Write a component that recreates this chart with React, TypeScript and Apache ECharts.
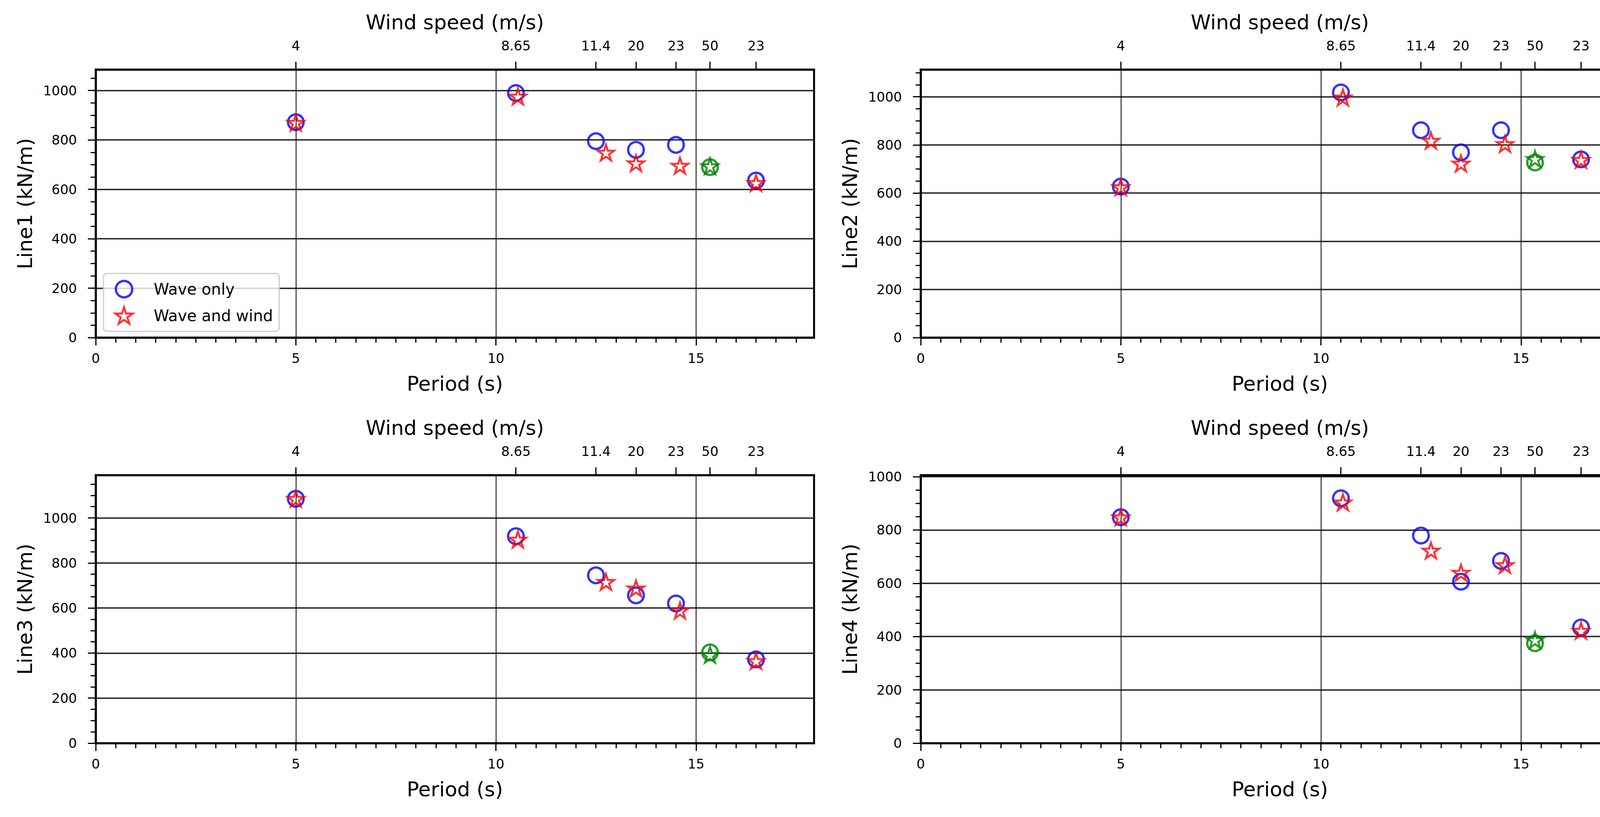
import * as echarts from 'echarts';
import { useEffect, useRef } from 'react';

// bottom axis (wave period) and top axis (wind speed at each case)
const periodMax = 17.95;
const periodTicks = [0, 5, 10, 15];
const windTickPeriods = [5, 10.5, 12.5, 13.5, 14.5, 15.35, 16.5];
const windTickLabels = ['4', '8.65', '11.4', '20', '23', '50', '23'];

// x positions of the markers
const periodsWaveOnly = [5, 10.5, 12.5, 13.5, 14.5, 16.5];
const periodsWaveWind = [5, 10.55, 12.75, 13.5, 14.6, 16.5];
const periodStorm = 15.35;

// mooring line tensions (kN/m)
const panelNames = ['Line1', 'Line2', 'Line3', 'Line4'];
const waveOnly = [
    [872, 990, 795, 760, 780, 636],
    [627, 1018, 861, 769, 861, 740],
    [1085, 919, 745, 656, 620, 372],
    [848, 919, 779, 606, 684, 434],
];
const waveWind = [
    [870, 976, 749, 706, 696, 626],
    [625, 997, 818, 723, 804, 738],
    [1085, 904, 716, 687, 589, 365],
    [848, 904, 723, 640, 669, 422],
];
const stormWaveOnly = [690, 727, 403, 375];
const stormWaveWind = [694, 742, 392, 387];

const yMax = [1085, 1113, 1190, 1006];
const yTicks = [0, 200, 400, 600, 800, 1000];

const star = 'path://M0,-100 L22.45,-30.9 L95.11,-30.9 L36.33,11.8 L58.78,80.9 L0,38.2 L-58.78,80.9 L-36.33,11.8 L-95.11,-30.9 L-22.45,-30.9 Z';
const font = 'DejaVu Sans';
const gridPos = [[245, 178], [2357, 178], [245, 1216], [2357, 1216]];

const App = () => {
    const divRef = useRef<HTMLDivElement>(null);

    useEffect(() => {
        const chart = echarts.init(divRef.current!, null, { renderer: 'svg' });

        const minorX: number[] = [];
        for (let k = 1; k * 0.5 < periodMax; k++) if (k % 10 !== 0) minorX.push(k * 0.5);

        const grids: any[] = [];
        const xAxes: any[] = [];
        const yAxes: any[] = [];
        const series: any[] = [];
        const line = { color: '#000', width: 5 };
        const tick = { color: '#000', width: 3 };
        const label = { fontSize: 34, fontFamily: font, color: '#000' };
        const nameStyle = { fontSize: 52, fontFamily: font, color: '#000' };

        gridPos.forEach(([left, top], i) => {
            grids.push({
                left, top, width: 1839, height: 686,
                show: true, borderColor: '#000', borderWidth: 5,
                outerBoundsMode: 'none',
            });
            xAxes.push({
                gridIndex: i, type: 'value', position: 'bottom', min: 0, max: periodMax, interval: 5,
                name: 'Period (s)', nameLocation: 'middle', nameGap: 92, nameTextStyle: nameStyle,
                axisLine: { show: true, onZero: false, lineStyle: line },
                axisTick: { show: true, length: 20, customValues: periodTicks, lineStyle: tick },
                axisLabel: { ...label, customValues: periodTicks, margin: 36, formatter: (v: number) => String(v) },
                splitLine: { show: true, lineStyle: { color: '#000', width: 2 } },
            });
            xAxes.push({
                gridIndex: i, type: 'value', position: 'bottom', min: 0, max: periodMax,
                axisLine: { show: false, onZero: false },
                axisTick: { show: true, length: 13, customValues: minorX, lineStyle: tick },
                axisLabel: { show: false },
                splitLine: { show: false },
            });
            xAxes.push({
                gridIndex: i, type: 'value', position: 'top', min: 0, max: periodMax,
                name: 'Wind speed (m/s)', nameLocation: 'middle', nameGap: 95, nameTextStyle: nameStyle,
                axisLine: { show: true, onZero: false, lineStyle: line },
                axisTick: { show: true, length: 20, customValues: windTickPeriods, lineStyle: tick },
                axisLabel: {
                    ...label, customValues: windTickPeriods, margin: 44,
                    formatter: (v: number) => {
                        const k = windTickPeriods.findIndex((p) => Math.abs(p - v) < 1e-6);
                        return k >= 0 ? windTickLabels[k] : '';
                    },
                },
                splitLine: { show: false },
            });

            const minorY: number[] = [];
            for (let v = 50; v < yMax[i]; v += 50) if (v % 200 !== 0) minorY.push(v);
            yAxes.push({
                gridIndex: i, type: 'value', position: 'left', min: 0, max: yMax[i], interval: 200,
                name: panelNames[i] + ' (kN/m)', nameLocation: 'middle', nameGap: 155, nameRotate: 90,
                nameTextStyle: nameStyle,
                axisLine: { show: true, onZero: false, lineStyle: line },
                axisTick: { show: true, length: 20, customValues: yTicks, lineStyle: tick },
                axisLabel: { ...label, customValues: yTicks, margin: 48, formatter: (v: number) => String(v) },
                splitLine: { show: true, lineStyle: { color: '#222', width: 3.5 } },
            });
            yAxes.push({
                gridIndex: i, type: 'value', position: 'left', min: 0, max: yMax[i],
                axisLine: { show: false, onZero: false },
                axisTick: { show: true, length: 13, customValues: minorY, lineStyle: tick },
                axisLabel: { show: false },
                splitLine: { show: false },
            });

            const xi = i * 3;
            const yi = i * 2;
            series.push({
                name: 'Wave only', type: 'scatter', xAxisIndex: xi, yAxisIndex: yi,
                symbol: 'circle', symbolSize: 40,
                itemStyle: { color: 'rgba(0,0,0,0)', borderColor: '#0000ff', borderWidth: 6 },
                data: periodsWaveOnly.map((p, k) => [p, waveOnly[i][k]]),
            });
            series.push({
                name: 'Wave and wind', type: 'scatter', xAxisIndex: xi, yAxisIndex: yi,
                symbol: star, symbolSize: [42, 40],
                itemStyle: { color: 'rgba(0,0,0,0)', borderColor: '#ff0000', borderWidth: 5 },
                data: periodsWaveWind.map((p, k) => [p, waveWind[i][k]]),
            });
            series.push({
                name: 'Wave only (50 m/s)', type: 'scatter', xAxisIndex: xi, yAxisIndex: yi,
                symbol: 'circle', symbolSize: 40,
                itemStyle: { color: 'rgba(0,0,0,0)', borderColor: '#008000', borderWidth: 6 },
                data: [[periodStorm, stormWaveOnly[i]]],
            });
            series.push({
                name: 'Wave and wind (50 m/s)', type: 'scatter', xAxisIndex: xi, yAxisIndex: yi,
                symbol: star, symbolSize: [42, 40],
                itemStyle: { color: 'rgba(0,0,0,0)', borderColor: '#008000', borderWidth: 5 },
                data: [[periodStorm, stormWaveWind[i]]],
            });
        });

        chart.setOption({
            animation: false,
            backgroundColor: '#fff',
            grid: grids,
            xAxis: xAxes,
            yAxis: yAxes,
            legend: {
                data: [
                    { name: 'Wave only', itemStyle: { color: 'rgba(0,0,0,0)', borderColor: '#0000ff', borderWidth: 6 } },
                    { name: 'Wave and wind', itemStyle: { color: 'rgba(0,0,0,0)', borderColor: '#ff0000', borderWidth: 5 } },
                ],
                orient: 'vertical', align: 'left',
                left: 265, top: 700,
                padding: [16, 16, 17, 28],
                itemWidth: 60, itemHeight: 42, itemGap: 20,
                borderColor: '#cccccc', borderWidth: 3, borderRadius: 8,
                backgroundColor: 'rgba(255,255,255,0.8)',
                selectedMode: false,
                textStyle: { fontSize: 40, fontFamily: font, color: '#000', padding: [0, 0, 0, 41] },
            },
            series,
        });

        return () => {
            chart.dispose();
        };
    }, []);

    return (
        <div
            ref={divRef}
            style={{ position: 'fixed', left: 0, top: 0, width: '4225px', height: '2091px', background: '#fff' }}
        ></div>
    );
};

export default App;
